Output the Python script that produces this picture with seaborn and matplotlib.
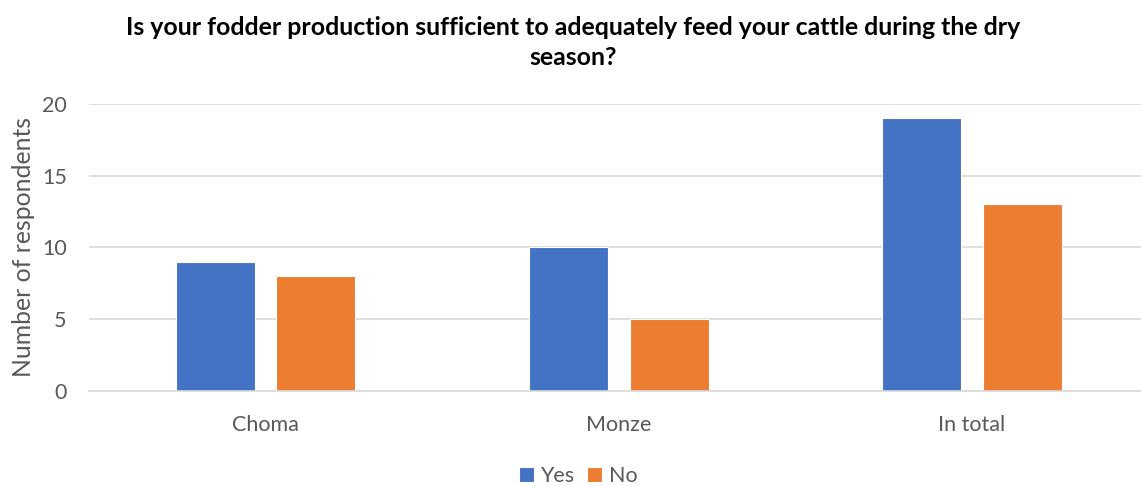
import matplotlib
matplotlib.use("Agg")
import matplotlib.pyplot as plt
import seaborn as sns
import pandas as pd

categories = ["Choma", "Monze", "In total"]
yes_values = [9, 10, 19]
no_values = [8, 5, 13]
series = ["Yes", "No"]
colors = {"Yes": "#4472C4", "No": "#ED7D31"}
title = "Is your fodder production sufficient to adequately feed your cattle during the dry\nseason?"

df = pd.DataFrame({
    "Region": categories * 2,
    "Answer": ["Yes"] * 3 + ["No"] * 3,
    "Count": yes_values + no_values,
})

sns.set_theme(style="white")
plt.rcParams['font.family'] = ['Lato', 'DejaVu Sans']

fig = plt.figure(figsize=(11.41, 4.86), dpi=100)
ax = fig.add_axes([0.078, 0.1955, 0.9286, 0.5905])

sns.barplot(data=df, x="Region", y="Count", hue="Answer", hue_order=series,
            palette=colors, width=0.57, gap=0.214, ax=ax,
            edgecolor="white", linewidth=0.8, saturation=1, legend=True)

ax.set_ylim(0, 20)
ax.set_yticks([0, 5, 10, 15, 20])
ax.set_xlim(-0.5, 2.5)
ax.yaxis.grid(True, color="#D9D9D9", linewidth=1.2)
ax.set_axisbelow(True)
for s in ["top", "right", "left"]:
    ax.spines[s].set_visible(False)
ax.spines["bottom"].set_color("#D9D9D9")
ax.spines["bottom"].set_linewidth(1.2)
ax.tick_params(axis="both", length=0, colors="#595959", labelsize=15.5)
ax.tick_params(axis="x", pad=17)
ax.tick_params(axis="y", pad=16)
ax.set_xlabel("")
ax.set_ylabel("Number of respondents", fontsize=17.8, color="#595959", labelpad=5)

fig.text(0.502, 0.967, title, ha="center", va="top", fontsize=17.9, fontweight="bold",
         color="black", linespacing=1.38)

leg = ax.legend(loc="center", bbox_to_anchor=(0.5066, 0.021), bbox_transform=fig.transFigure,
                ncol=2, frameon=False, fontsize=15.5, handlelength=0.7, handleheight=0.7,
                handletextpad=0.3, columnspacing=0.6)
for t in leg.get_texts():
    t.set_color("#595959")

fig.savefig("out.png", dpi=100)
